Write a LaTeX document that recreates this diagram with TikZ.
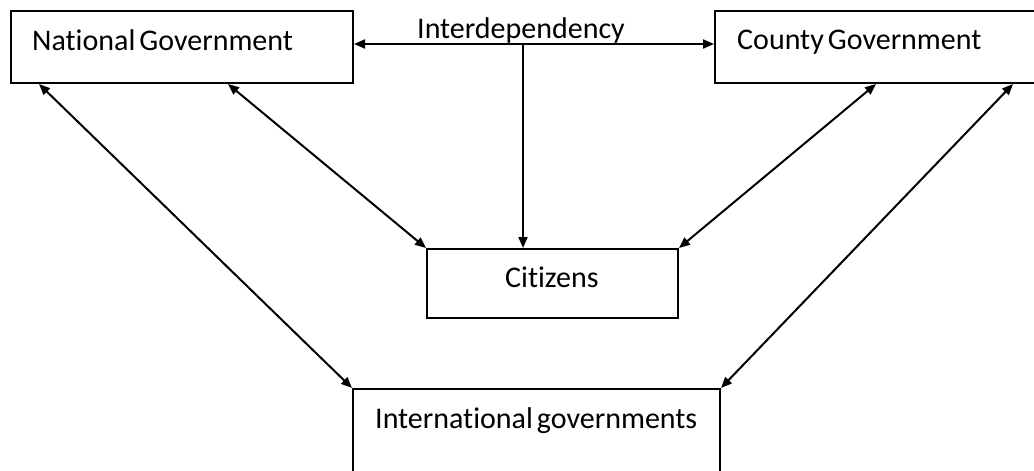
\documentclass[tikz,border=0pt]{standalone}
\usepackage{fontspec}
\setmainfont[Ligatures=NoCommon,WordSpace=0.6]{Carlito}
\usetikzlibrary{arrows.meta}
\begin{document}
\begin{tikzpicture}[x=1pt,y=-1pt,
  box/.style={draw,line width=2pt,inner sep=0pt,anchor=north west},
  lbl/.style={inner sep=0pt,anchor=base west,font=\fontsize{30}{34}\selectfont},
  link/.style={line width=2pt,{Triangle[length=11pt,width=9pt]}-{Triangle[length=11pt,width=9pt]}},
  oneway/.style={line width=2pt,-{Triangle[length=11pt,width=9pt]}}]
\clip (0,0) rectangle (1034,471);
\fill[white] (0,0) rectangle (1034,471);

% boxes
\node[box,minimum width=342pt,minimum height=72pt] (nat) at (10,10) {};
\node[box,minimum width=330pt,minimum height=72pt] (cty) at (714,10) {};
\node[box,minimum width=251pt,minimum height=69pt] (cit) at (426,248) {};
\node[box,minimum width=367pt,minimum height=100pt] (intl) at (352,388) {};

% labels
\node[lbl] (natl) at (32,50) {National Government};
\node[lbl] (ctyl) at (737,49) {County Government};
\node[lbl] (citl) at (505,287) {Citizens};
\node[lbl] (intll) at (375,428) {International governments};
\node[lbl] (dep) at (417,38) {Interdependency};

% branch point on the horizontal link
\coordinate (tap) at (523,44);

% links
\draw[link] (nat.east |- tap) -- (cty.west |- tap);
\draw[oneway] (tap) -- (cit.north -| tap);
\draw[link] ([xshift=29pt]nat.south west) -- (intl.north west);
\draw[link] ([xshift=218pt]nat.south west) -- (cit.north west);
\draw[link] ([xshift=162pt]cty.south west) -- (cit.north east);
\draw[link] ([xshift=299pt]cty.south west) -- (intl.north east);
\end{tikzpicture}
\end{document}
